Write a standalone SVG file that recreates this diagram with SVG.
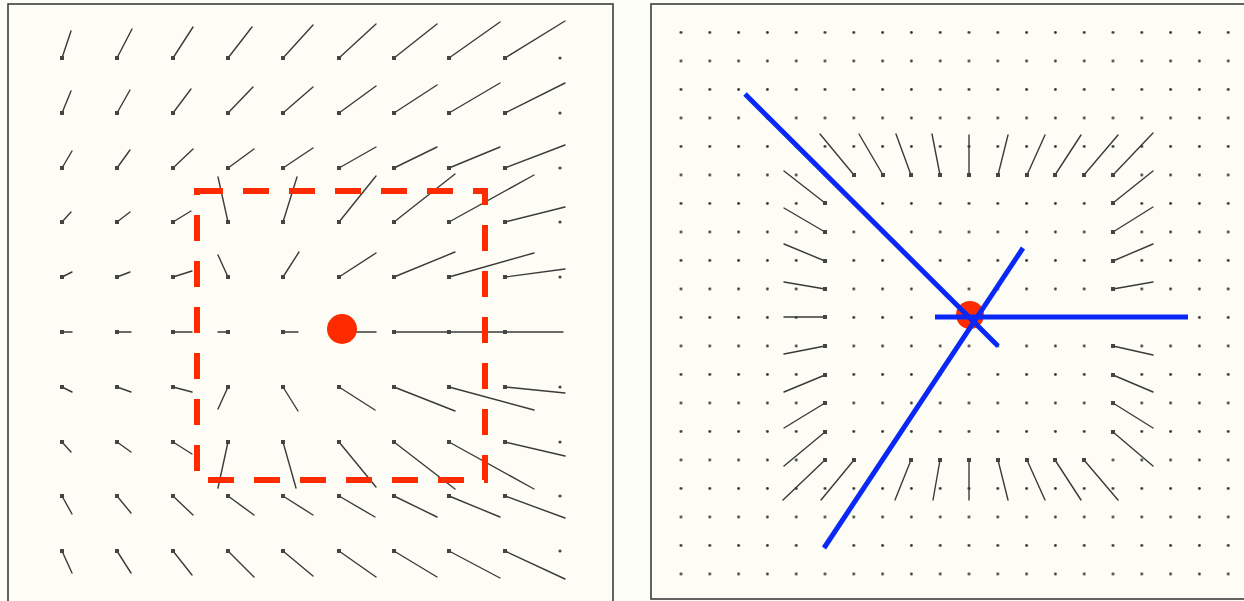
<svg xmlns="http://www.w3.org/2000/svg" width="1244" height="601" viewBox="0 0 1244 601">
<style>
.frame{fill:#fdfdf6;stroke:#3c3c3c;stroke-width:1.6}
.v{stroke:#3a3a3a;stroke-width:1.4;fill:none;stroke-linecap:round}
.b{fill:#444}
.d{fill:#444}
.red{fill:#ff2b00}
.dash{fill:none;stroke:#ff2b00;stroke-width:6;stroke-dasharray:26 20}
.blue{stroke:#0a28f5;stroke-width:5;fill:none}
</style>
<defs>
<pattern id="dots" patternUnits="userSpaceOnUse" x="666.6" y="18.25" width="28.8" height="28.5">
<circle cx="14.4" cy="14.25" r="1.4" fill="#333"/>
</pattern>
</defs>
<rect width="1244" height="601" fill="#fdfdf7"/>
<g id="left-panel">
<rect class="frame" x="8" y="4" width="605" height="605"/>
<g id="left-vectors">
<path class="v" d="M62,58L71,31M117,58L132,29M173,58L193,27M228,58L252,27M283,58L313,25M339,58L376,24M394,58L437,24M449,58L500,22M505,58L565,21
M62,113L71,91M117,113L130,90M173,113L191,89M228,113L253,87M283,113L313,87M339,113L376,86M394,113L437,85M449,113L500,83M505,113L565,83
M62,168L72,151M117,168L130,150M173,168L193,149M228,168L254,149M283,168L313,148M339,168L376,147M394,168L437,147M449,168L500,147M505,168L565,145
M62,222L71,212M117,222L130,212M173,222L191,211M228,222L218,177M283,222L297,177M339,222L376,176M394,222L455,174M449,222L534,175M505,222L565,207
M62,277L72,272M117,277L130,272M173,277L192,271M228,277L218,255M283,277L299,252M339,277L376,253M394,277L455,252M449,277L534,253M505,277L565,269
M62,332L72,332M117,332L131,332M173,332L192,332M228,332L218,332M283,332L298,332M339,332L376,332M394,332L449,332M449,332L504,332M505,332L563,332
M62,387L72,392M117,387L131,392M173,387L192,392M228,387L218,409M283,387L298,411M339,387L375,410M394,387L455,411M449,387L534,410M505,387L565,393
M62,442L71,452M117,442L131,452M173,442L192,454M228,442L218,488M283,442L296,488M339,442L376,487M394,442L455,489M449,442L534,489M505,442L565,456
M62,496L72,514M117,496L131,513M173,496L193,515M228,496L254,515M283,496L313,515M339,496L375,517M394,496L437,517M449,496L500,517M505,496L565,518
M62,551L72,573M117,551L131,573M173,551L192,575M228,551L254,577M283,551L313,576M339,551L376,577M394,551L437,577M449,551L500,578M505,551L565,579"/>
<g class="b">
<rect x="60" y="56" width="4" height="4"/><rect x="115" y="56" width="4" height="4"/><rect x="171" y="56" width="4" height="4"/><rect x="226" y="56" width="4" height="4"/><rect x="281" y="56" width="4" height="4"/><rect x="337" y="56" width="4" height="4"/><rect x="392" y="56" width="4" height="4"/><rect x="447" y="56" width="4" height="4"/><rect x="503" y="56" width="4" height="4"/>
<rect x="60" y="111" width="4" height="4"/><rect x="115" y="111" width="4" height="4"/><rect x="171" y="111" width="4" height="4"/><rect x="226" y="111" width="4" height="4"/><rect x="281" y="111" width="4" height="4"/><rect x="337" y="111" width="4" height="4"/><rect x="392" y="111" width="4" height="4"/><rect x="447" y="111" width="4" height="4"/><rect x="503" y="111" width="4" height="4"/>
<rect x="60" y="166" width="4" height="4"/><rect x="115" y="166" width="4" height="4"/><rect x="171" y="166" width="4" height="4"/><rect x="226" y="166" width="4" height="4"/><rect x="281" y="166" width="4" height="4"/><rect x="337" y="166" width="4" height="4"/><rect x="392" y="166" width="4" height="4"/><rect x="447" y="166" width="4" height="4"/><rect x="503" y="166" width="4" height="4"/>
<rect x="60" y="220" width="4" height="4"/><rect x="115" y="220" width="4" height="4"/><rect x="171" y="220" width="4" height="4"/><rect x="226" y="220" width="4" height="4"/><rect x="281" y="220" width="4" height="4"/><rect x="337" y="220" width="4" height="4"/><rect x="392" y="220" width="4" height="4"/><rect x="447" y="220" width="4" height="4"/><rect x="503" y="220" width="4" height="4"/>
<rect x="60" y="275" width="4" height="4"/><rect x="115" y="275" width="4" height="4"/><rect x="171" y="275" width="4" height="4"/><rect x="226" y="275" width="4" height="4"/><rect x="281" y="275" width="4" height="4"/><rect x="337" y="275" width="4" height="4"/><rect x="392" y="275" width="4" height="4"/><rect x="447" y="275" width="4" height="4"/><rect x="503" y="275" width="4" height="4"/>
<rect x="60" y="330" width="4" height="4"/><rect x="115" y="330" width="4" height="4"/><rect x="171" y="330" width="4" height="4"/><rect x="226" y="330" width="4" height="4"/><rect x="281" y="330" width="4" height="4"/><rect x="392" y="330" width="4" height="4"/><rect x="447" y="330" width="4" height="4"/><rect x="503" y="330" width="4" height="4"/>
<rect x="60" y="385" width="4" height="4"/><rect x="115" y="385" width="4" height="4"/><rect x="171" y="385" width="4" height="4"/><rect x="226" y="385" width="4" height="4"/><rect x="281" y="385" width="4" height="4"/><rect x="337" y="385" width="4" height="4"/><rect x="392" y="385" width="4" height="4"/><rect x="447" y="385" width="4" height="4"/><rect x="503" y="385" width="4" height="4"/>
<rect x="60" y="440" width="4" height="4"/><rect x="115" y="440" width="4" height="4"/><rect x="171" y="440" width="4" height="4"/><rect x="226" y="440" width="4" height="4"/><rect x="281" y="440" width="4" height="4"/><rect x="337" y="440" width="4" height="4"/><rect x="392" y="440" width="4" height="4"/><rect x="447" y="440" width="4" height="4"/><rect x="503" y="440" width="4" height="4"/>
<rect x="60" y="494" width="4" height="4"/><rect x="115" y="494" width="4" height="4"/><rect x="171" y="494" width="4" height="4"/><rect x="226" y="494" width="4" height="4"/><rect x="281" y="494" width="4" height="4"/><rect x="337" y="494" width="4" height="4"/><rect x="392" y="494" width="4" height="4"/><rect x="447" y="494" width="4" height="4"/><rect x="503" y="494" width="4" height="4"/>
<rect x="60" y="549" width="4" height="4"/><rect x="115" y="549" width="4" height="4"/><rect x="171" y="549" width="4" height="4"/><rect x="226" y="549" width="4" height="4"/><rect x="281" y="549" width="4" height="4"/><rect x="337" y="549" width="4" height="4"/><rect x="392" y="549" width="4" height="4"/><rect x="447" y="549" width="4" height="4"/><rect x="503" y="549" width="4" height="4"/>
</g>
<g class="d">
<circle cx="560" cy="58" r="1.6"/><circle cx="560" cy="113" r="1.6"/><circle cx="560" cy="168" r="1.6"/><circle cx="560" cy="222" r="1.6"/><circle cx="560" cy="277" r="1.6"/><circle cx="560" cy="387" r="1.6"/><circle cx="560" cy="442" r="1.6"/><circle cx="560" cy="496" r="1.6"/><circle cx="560" cy="551" r="1.6"/>
</g>
</g>
<path id="selection-box" class="dash" d="M197,191H485V480H197Z"/>
<circle id="left-source" class="red" cx="342" cy="329" r="15"/>
</g>
<g id="right-panel">
<rect class="frame" x="651" y="4" width="600" height="595"/>
<rect x="666" y="18" width="577" height="570" fill="url(#dots)"/>
<g id="right-vectors">
<path class="v" d="M854,175L820,134M883,175L859,134M911,175L896,134M940,175L932,134M969,175L969,135M998,175L1008,135M1027,175L1045,135M1055,175L1081,135M1084,175L1118,135M1113,175L1153,133
M825,203L784,171M825,232L784,208M825,261L784,244M825,289L784,282M825,317L784,317M825,346L784,354M825,375L784,392M825,403L784,428M825,432L784,466M825,460L783,500
M1113,203L1153,171M1113,232L1153,207M1113,261L1153,244M1113,289L1153,282M1113,346L1153,355M1113,375L1153,392M1113,403L1153,428M1113,432L1153,466
M854,460L821,500M911,460L895,500M940,460L933,500M969,460L969,500M998,460L1008,500M1027,460L1045,500M1055,460L1081,500M1084,460L1118,500"/>
<g class="b">
<rect x="852" y="173" width="4" height="4"/><rect x="881" y="173" width="4" height="4"/><rect x="909" y="173" width="4" height="4"/><rect x="938" y="173" width="4" height="4"/><rect x="967" y="173" width="4" height="4"/><rect x="996" y="173" width="4" height="4"/><rect x="1025" y="173" width="4" height="4"/><rect x="1053" y="173" width="4" height="4"/><rect x="1082" y="173" width="4" height="4"/><rect x="1111" y="173" width="4" height="4"/>
<rect x="823" y="201" width="4" height="4"/><rect x="823" y="230" width="4" height="4"/><rect x="823" y="259" width="4" height="4"/><rect x="823" y="287" width="4" height="4"/><rect x="823" y="315" width="4" height="4"/><rect x="823" y="344" width="4" height="4"/><rect x="823" y="373" width="4" height="4"/><rect x="823" y="401" width="4" height="4"/><rect x="823" y="430" width="4" height="4"/><rect x="823" y="458" width="4" height="4"/>
<rect x="1111" y="201" width="4" height="4"/><rect x="1111" y="230" width="4" height="4"/><rect x="1111" y="259" width="4" height="4"/><rect x="1111" y="287" width="4" height="4"/><rect x="1111" y="344" width="4" height="4"/><rect x="1111" y="373" width="4" height="4"/><rect x="1111" y="401" width="4" height="4"/><rect x="1111" y="430" width="4" height="4"/>
<rect x="852" y="458" width="4" height="4"/><rect x="909" y="458" width="4" height="4"/><rect x="938" y="458" width="4" height="4"/><rect x="967" y="458" width="4" height="4"/><rect x="996" y="458" width="4" height="4"/><rect x="1025" y="458" width="4" height="4"/><rect x="1053" y="458" width="4" height="4"/><rect x="1082" y="458" width="4" height="4"/>
</g>
</g>
<circle id="right-source" class="red" cx="970" cy="315" r="14"/>
<g id="blue-lines">
<line class="blue" x1="745" y1="94" x2="998" y2="346"/>
<line class="blue" x1="935" y1="317" x2="1188" y2="317"/>
<line class="blue" x1="824" y1="548" x2="1023" y2="248"/>
</g>
</g>
</svg>
